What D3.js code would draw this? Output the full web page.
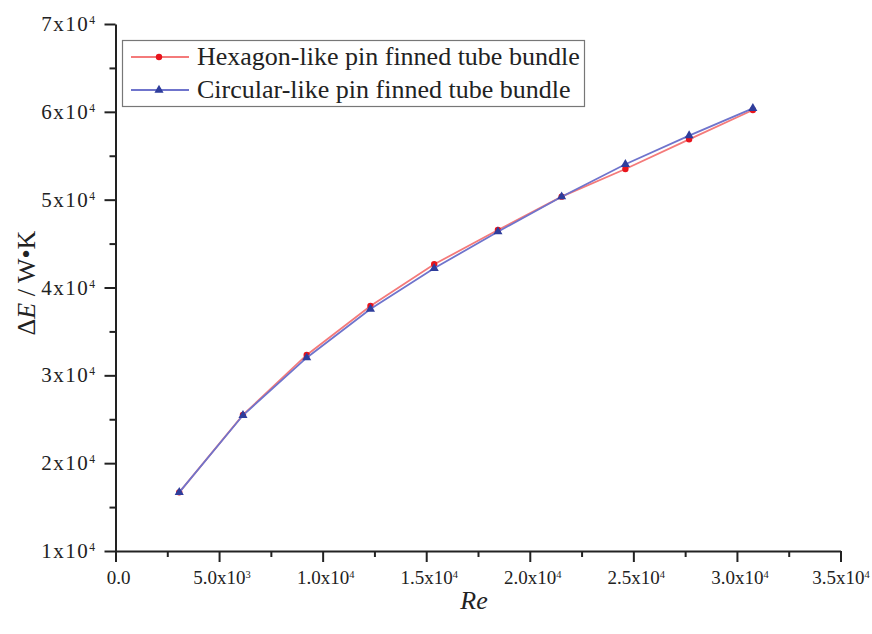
<!DOCTYPE html>
<html>
<head>
<meta charset="utf-8">
<script src="https://cdn.jsdelivr.net/npm/d3@7"></script>
<style>
  html, body { margin: 0; padding: 0; background: #fff; }
  svg { display: block; }
  text { font-family: "Liberation Serif", "Times New Roman", serif; fill: #222; }
</style>
</head>
<body>
<svg id="chart" width="872" height="634"></svg>
<script>
// Reynolds numbers of the operating points
const reValues = [3077, 6154, 9231, 12308, 15385, 18462, 21538, 24615, 27692, 30769];
// Exergy change for each bundle type (W·K)
const hexagonValues  = [16680, 25500, 32320, 37890, 42640, 46550, 50340, 53490, 56870, 60210];
const circularValues = [16680, 25450, 32010, 37550, 42190, 46350, 50340, 54030, 57290, 60400];

const seriesNames = ["Hexagon-like pin finned tube bundle", "Circular-like pin finned tube bundle"];

const xTickValues = [0, 5000, 10000, 15000, 20000, 25000, 30000, 35000];
const xTickLabels = ["0.0", "5.0x10^3", "1.0x10^4", "1.5x10^4", "2.0x10^4", "2.5x10^4", "3.0x10^4", "3.5x10^4"];
const yTickValues = [10000, 20000, 30000, 40000, 50000, 60000, 70000];
const yTickLabels = ["1x10^4", "2x10^4", "3x10^4", "4x10^4", "5x10^4", "6x10^4", "7x10^4"];

const svg = d3.select("#chart");
const plotLeft = 115.5, plotRight = 840.5, plotTop = 24, plotBottom = 551;

const x = d3.scaleLinear().domain([0, 35000]).range([plotLeft, plotRight]);
const y = d3.scaleLinear().domain([10000, 70000]).range([plotBottom, plotTop]);

// Minor ticks halfway between the labelled ones
const xMinor = d3.range(2500, 35000, 5000);
const yMinor = d3.range(15000, 70000, 10000);

function putLabel(sel, label) {
  const parts = label.split("^");
  sel.text(null);
  sel.append("tspan").text(parts[0]);
  if (parts[1]) {
    sel.append("tspan").attr("dy", "-0.6em").attr("font-size", "0.55em").text(parts[1]);
  }
}

// X axis
const xAxis = svg.append("g").attr("transform", `translate(0,${plotBottom})`);
xAxis.call(d3.axisBottom(x).tickValues(xTickValues).tickSize(11).tickSizeOuter(0).tickFormat(""));
xAxis.append("g").call(d3.axisBottom(x).tickValues(xMinor).tickSize(6).tickFormat(""))
  .select(".domain").remove();
xAxis.selectAll(".domain, line").attr("stroke", "#222").attr("stroke-width", 2);
xAxis.selectAll(".xlab").data(xTickValues).enter().append("text")
  .attr("class", "xlab")
  .attr("x", d => Math.min(x(d) + 3, 841))
  .attr("y", 33)
  .attr("text-anchor", "middle")
  .attr("font-size", 19)
  .each(function(d, i) { putLabel(d3.select(this), xTickLabels[i]); });

// Y axis
const yAxis = svg.append("g").attr("transform", `translate(${plotLeft},0)`);
yAxis.call(d3.axisLeft(y).tickValues(yTickValues).tickSize(11).tickSizeOuter(0).tickFormat(""));
yAxis.append("g").call(d3.axisLeft(y).tickValues(yMinor).tickSize(6).tickFormat(""))
  .select(".domain").remove();
yAxis.selectAll(".domain, line").attr("stroke", "#222").attr("stroke-width", 2);
yAxis.selectAll(".ylab").data(yTickValues).enter().append("text")
  .attr("class", "ylab")
  .attr("x", -19)
  .attr("y", d => y(d) + 7)
  .attr("text-anchor", "end")
  .attr("font-size", 21)
  .attr("letter-spacing", 1.5)
  .each(function(d, i) { putLabel(d3.select(this), yTickLabels[i]); });

// Axis titles
svg.append("text")
  .attr("x", 474)
  .attr("y", 609)
  .attr("text-anchor", "middle")
  .attr("font-size", 26)
  .attr("font-style", "italic")
  .text("Re");

const yTitle = svg.append("text")
  .attr("transform", `translate(35,283) rotate(-90)`)
  .attr("text-anchor", "middle")
  .attr("font-size", 26);
yTitle.append("tspan").text("Δ");
yTitle.append("tspan").attr("font-style", "italic").text("E");
yTitle.append("tspan").text(" / W•K");

// Series
const series = [
  { name: seriesNames[0], values: hexagonValues, line: "#f47a7a", mark: "#e8141c", shape: d3.symbolCircle, size: 32 },
  { name: seriesNames[1], values: circularValues, line: "#6f74cc", mark: "#2e3d9c", shape: d3.symbolTriangle, size: 36 }
];

const line = d3.line().x(d => x(d[0])).y(d => y(d[1]));

series.forEach(s => {
  const pts = reValues.map((r, i) => [r, s.values[i]]);
  svg.append("path").datum(pts)
    .attr("d", line)
    .attr("fill", "none")
    .attr("stroke", s.line)
    .attr("stroke-width", 1.8);
  svg.append("g").selectAll("path").data(pts).enter().append("path")
    .attr("transform", d => `translate(${x(d[0])},${y(d[1])})`)
    .attr("d", d3.symbol().type(s.shape).size(s.size))
    .attr("fill", s.mark);
});

// Legend
const legend = svg.append("g");
legend.append("rect")
  .attr("x", 122.5).attr("y", 40.5).attr("width", 462).attr("height", 66)
  .attr("fill", "#fff").attr("stroke", "#777").attr("stroke-width", 1.2);
series.forEach((s, i) => {
  const ly = 57 + i * 33;
  legend.append("line")
    .attr("x1", 131).attr("x2", 189).attr("y1", ly).attr("y2", ly)
    .attr("stroke", s.line).attr("stroke-width", 1.8);
  legend.append("path")
    .attr("transform", `translate(159,${ly})`)
    .attr("d", d3.symbol().type(s.shape).size(s.size))
    .attr("fill", s.mark);
  legend.append("text")
    .attr("x", 197).attr("y", ly + 8)
    .attr("font-size", 26)
    .text(s.name);
});
</script>
</body>
</html>
